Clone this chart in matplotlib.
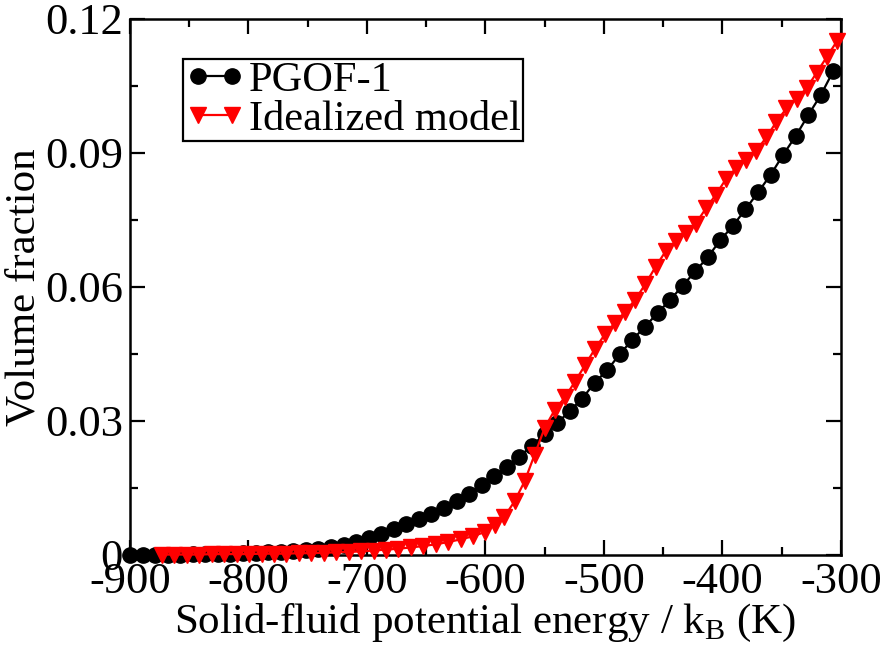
import matplotlib
matplotlib.use("Agg")
import matplotlib.pyplot as plt
from matplotlib.ticker import MultipleLocator

plt.rcParams['font.family'] = ['Liberation Serif', 'DejaVu Serif']
plt.rcParams['mathtext.fontset'] = 'custom'
plt.rcParams['mathtext.rm'] = 'Liberation Serif'
plt.rcParams['axes.unicode_minus'] = False

# PGOF-1 (black circles)
pgof_x = [-900, -889.4, -878.8, -868.2, -857.6, -847, -836.4, -825.8, -815.2, -804.6,
          -794, -783.4, -772.8, -762.2, -751.6, -741, -730.4, -719.8, -709.2, -698.6,
          -688, -677.4, -666.8, -656.2, -645.6, -635, -624.4, -613.8, -603.2, -592.6,
          -582, -571.4, -560.8, -550.2, -539.6, -529, -518.4, -507.8, -497.2, -486.6,
          -476, -465.4, -454.8, -444.2, -433.6, -423, -412.4, -401.8, -391.2, -380.6,
          -370, -359.4, -348.8, -338.2, -327.6, -317, -306.4]
pgof_y = [0.0000, 0.0000, 0.0001, 0.0001, 0.0001, 0.0002, 0.0002, 0.0003, 0.0003, 0.0004,
          0.0005, 0.0006, 0.0007, 0.0009, 0.0011, 0.0014, 0.0018, 0.0023, 0.0030, 0.0038,
          0.0047, 0.0058, 0.0069, 0.0080, 0.0092, 0.0105, 0.0120, 0.0137, 0.0157, 0.0176,
          0.0197, 0.0220, 0.0245, 0.0270, 0.0295, 0.0322, 0.0350, 0.0386, 0.0414, 0.0450,
          0.0482, 0.0511, 0.0542, 0.0571, 0.0603, 0.0635, 0.0667, 0.0705, 0.0737, 0.0774,
          0.0812, 0.0851, 0.0896, 0.0938, 0.0985, 0.1030, 0.1084]

# Idealized model (red triangles)
ideal_x = [-873, -862.5, -852, -841.5, -831, -820.5, -810, -799.5, -789, -778.5,
           -768, -757.5, -747, -736.5, -726, -715.5, -705, -694.5, -684, -673.5,
           -663, -652.5, -642, -631.5, -621, -610.5, -600,
           -592, -584, -575.5, -567, -558.5, -550, -541.5, -533, -524.5, -516,
           -507.5, -499, -490.5, -482, -473.5, -465, -456.5, -448, -439.5, -431,
           -422.5, -414, -405.5, -397, -388.5, -380, -371.5, -363, -354.5, -346,
           -337.5, -329, -320.5, -312, -303.5]
ideal_y = [0.0001, 0.0001, 0.0001, 0.0001, 0.0002, 0.0002, 0.0002, 0.0002, 0.0003, 0.0003,
           0.0003, 0.0004, 0.0004, 0.0005, 0.0006, 0.0007, 0.0008, 0.0010, 0.0012, 0.0014,
           0.0017, 0.0020, 0.0024, 0.0029, 0.0035, 0.0042, 0.0052,
           0.0068, 0.0086, 0.0120, 0.0165, 0.0225, 0.0285, 0.0325, 0.0353, 0.0388, 0.0425,
           0.0462, 0.0495, 0.0520, 0.0545, 0.0572, 0.0607, 0.0645, 0.0680, 0.0702, 0.0720,
           0.0742, 0.0776, 0.0807, 0.0842, 0.0866, 0.0884, 0.0905, 0.0935, 0.0970, 0.1000,
           0.1022, 0.1045, 0.1080, 0.1115, 0.1150]

xticks = [-900, -800, -700, -600, -500, -400, -300]
xtick_labels = ["-900", "-800", "-700", "-600", "-500", "-400", "-300"]
yticks = [0, 0.03, 0.06, 0.09, 0.12]
ytick_labels = ["0", "0.03", "0.06", "0.09", "0.12"]

fig = plt.figure(figsize=(8.83, 6.46), dpi=100)
ax = fig.add_axes([130/883, 1 - 555/646, (841 - 130)/883, (555 - 19)/646])

ax.plot(pgof_x, pgof_y, color='black', lw=1.6, marker='o', ms=11,
        label='PGOF-1', clip_on=False, zorder=3)
ax.plot(ideal_x, ideal_y, color='red', lw=1.6, marker='v', ms=11.5,
        label='Idealized model', clip_on=False, zorder=4)

ax.set_xlim(-900, -300)
ax.set_ylim(0, 0.12)
ax.set_xticks(xticks)
ax.set_xticklabels(xtick_labels)
ax.set_yticks(yticks)
ax.set_yticklabels(ytick_labels)
ax.xaxis.set_minor_locator(MultipleLocator(50))
ax.yaxis.set_minor_locator(MultipleLocator(0.015))
ax.tick_params(which='both', direction='in', top=True, right=True, width=1.6)
ax.tick_params(which='major', length=11, labelsize=32, pad=5)
ax.tick_params(which='minor', length=6)
for s in ax.spines.values():
    s.set_linewidth(1.8)

ax.set_xlabel('Solid-fluid potential energy / k$_\\mathrm{B}$ (K)', fontsize=31, labelpad=0)
ax.set_ylabel('Volume fraction', fontsize=31, labelpad=1)

leg = ax.legend(loc='upper left', bbox_to_anchor=(0.075, 0.925), fontsize=30.5,
                frameon=True, fancybox=False, edgecolor='black', framealpha=1,
                borderpad=0.05, labelspacing=0.0, handlelength=1.4, handletextpad=0.1,
                borderaxespad=0, numpoints=2)
leg.get_frame().set_linewidth(1.6)

fig.savefig('out.png', dpi=100)
